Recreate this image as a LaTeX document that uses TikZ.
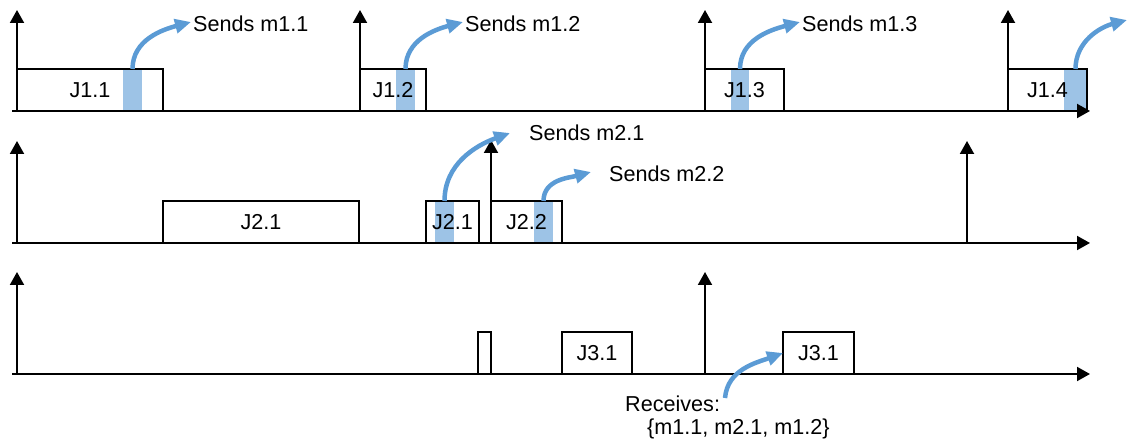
\documentclass[tikz,border=0pt]{standalone}
\usepackage{fontspec}
\setmainfont{Liberation Sans}
\usetikzlibrary{arrows.meta}
\definecolor{barblue}{RGB}{157,195,230}
\definecolor{arrblue}{RGB}{91,155,213}
\begin{document}
\begin{tikzpicture}[x=1pt,y=-1pt,
  every node/.style={font=\fontsize{21.6}{26}\selectfont},
  axis/.style={line width=2pt,-{Triangle[length=13pt,width=14pt]}},
  job/.style={draw,line width=2pt,inner sep=0pt,outer sep=0pt,anchor=south west,minimum height=42pt},
  bar/.style={fill=barblue,inner sep=0pt,outer sep=0pt,anchor=south west,minimum height=42pt},
  msg/.style={draw=arrblue,line width=4.5pt,-{Triangle[length=16pt,width=14pt]}},
  lbl/.style={anchor=west,inner sep=2pt}]
\useasboundingbox (0,0) rectangle (1128,443);

% ---------- row 1 ----------
\node[bar,minimum width=19pt] (b11) at (123,111) {};
\node[bar,minimum width=19pt] (b12) at (396,111) {};
\node[bar,minimum width=18pt] (b13) at (731,111) {};
\node[bar,minimum width=23pt] (b14) at (1064,111) {};
\node[job,minimum width=146pt] (j11) at (17,111) {J1.1};
\node[job,minimum width=66pt] (j12) at (360,111) {J1.2};
\node[job,minimum width=79pt] (j13) at (705,111) {J1.3};
\node[job,minimum width=79pt] (j14) at (1008,111) {J1.4};
\node[lbl] (s11) at (191,24) {Sends m1.1};
\node[lbl] (s12) at (463,24) {Sends m1.2};
\node[lbl] (s13) at (800,24) {Sends m1.3};
\coordinate (e14) at (1127,20);

% ---------- row 2 ----------
\node[bar,minimum width=19pt] (b21) at (435,243) {};
\node[bar,minimum width=19pt] (b22) at (534,243) {};
\node[job,minimum width=196pt] (j21a) at (163,243) {J2.1};
\node[job,minimum width=53pt] (j21b) at (426,243) {J2.1};
\node[job,minimum width=71pt] (j22) at (491,243) {J2.2};
\node[lbl] (s21) at (527,133) {Sends m2.1};
\node[lbl] (s22) at (607,174) {Sends m2.2};

% ---------- row 3 ----------
\node[job,minimum width=13pt] (j3x) at (478,374) {};
\node[job,minimum width=70pt] (j31a) at (562,374) {J3.1};
\node[job,minimum width=71pt] (j31b) at (783,374) {J3.1};
\node[lbl] (rc1) at (623,404) {Receives:};
\node[lbl] (rc2) at (645,429) {\{m1.1, m2.1, m1.2\}};
\coordinate (rs) at (725,398);

% ---------- axes ----------
\draw[axis] (12,111) -- (1090,111);
\draw[axis] (17,111) -- (17,10);
\draw[axis] (360,111) -- (360,10);
\draw[axis] (705,111) -- (705,10);
\draw[axis] (1008,111) -- (1008,10);

\draw[axis] (12,243) -- (1090,243);
\draw[axis] (17,243) -- (17,141);
\draw[axis] (491,243) -- (491,140);
\draw[axis] (967,243) -- (967,141);

\draw[axis] (12,374) -- (1090,374);
\draw[axis] (17,374) -- (17,272);
\draw[axis] (705,374) -- (705,272);

% ---------- messages ----------
\draw[msg] (b11.north) to[out=90,in=195] ([yshift=2pt]s11.west);
\draw[msg] (b12.north) to[out=90,in=195] ([yshift=2pt]s12.west);
\draw[msg] (b13.north) to[out=90,in=195] ([yshift=2pt]s13.west);
\draw[msg] (b14.north) to[out=90,in=195] (e14);
\draw[msg] (b21.north) to[out=90,in=200] ([xshift=-17pt]s21.west);
\draw[msg] (b22.north) to[out=90,in=195] ([xshift=-16pt,yshift=2pt]s22.west);
\draw[msg] (rs) to[out=85,in=200] (j31b.west);
\end{tikzpicture}
\end{document}
